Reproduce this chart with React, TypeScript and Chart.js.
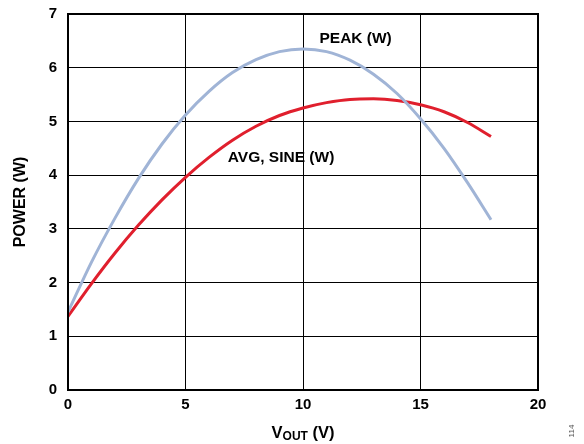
import React, { useEffect, useRef } from "react";
import { Chart, registerables } from "chart.js";

Chart.register(...registerables);

const vout = [0, 1, 2, 3, 4, 5, 6, 7, 8, 9, 10, 11, 12, 13, 14, 15, 16, 17, 18];
const peakW = [1.45, 2.38, 3.2, 3.94, 4.58, 5.12, 5.56, 5.91, 6.15, 6.3, 6.35, 6.3, 6.14, 5.88, 5.52, 5.05, 4.5, 3.86, 3.17];
const avgSineW = [1.37, 1.98, 2.55, 3.07, 3.54, 3.96, 4.33, 4.65, 4.91, 5.11, 5.25, 5.35, 5.41, 5.42, 5.39, 5.31, 5.18, 4.98, 4.72];
const xTicks = [0, 5, 10, 15, 20];
const yTicks = [0, 1, 2, 3, 4, 5, 6, 7];

const FONT = "'Liberation Sans', Arial, sans-serif";

export default function App() {
  const ref = useRef<HTMLCanvasElement | null>(null);
  useEffect(() => {
    document.body.style.margin = "0";
    const canvas = ref.current;
    if (!canvas) return;

    const overlay = {
      id: "overlay",
      afterDraw(chart: any) {
        const { ctx, chartArea, scales } = chart;
        const xs = scales.x;
        const ys = scales.y;
        ctx.save();
        // frame
        ctx.strokeStyle = "#000";
        ctx.lineWidth = 2;
        ctx.strokeRect(chartArea.left, chartArea.top, chartArea.right - chartArea.left, chartArea.bottom - chartArea.top);
        // series labels
        ctx.fillStyle = "#000";
        ctx.font = `bold 15.5px ${FONT}`;
        ctx.textBaseline = "middle";
        ctx.textAlign = "left";
        ctx.fillText("PEAK (W)", xs.getPixelForValue(10.7), ys.getPixelForValue(6.54));
        ctx.fillText("AVG, SINE (W)", xs.getPixelForValue(6.8), ys.getPixelForValue(4.32));
        // y title
        ctx.save();
        ctx.translate(21, (chartArea.top + chartArea.bottom) / 2);
        ctx.rotate(-Math.PI / 2);
        ctx.textAlign = "center";
        ctx.font = `bold 16px ${FONT}`;
        ctx.fillText("POWER (W)", 0, 0);
        ctx.restore();
        // x title with subscript
        const cx = (chartArea.left + chartArea.right) / 2;
        const baseY = 438;
        ctx.textBaseline = "alphabetic";
        ctx.font = `bold 16.5px ${FONT}`;
        const wV = ctx.measureText("V").width;
        const wRest = ctx.measureText(" (V)").width;
        ctx.font = `bold 12px ${FONT}`;
        const wSub = ctx.measureText("OUT").width;
        let x = cx - (wV + wSub + wRest) / 2;
        ctx.font = `bold 16.5px ${FONT}`;
        ctx.fillText("V", x, baseY);
        x += wV;
        ctx.font = `bold 12px ${FONT}`;
        ctx.fillText("OUT", x, baseY + 2);
        x += wSub;
        ctx.font = `bold 16.5px ${FONT}`;
        ctx.fillText(" (V)", x, baseY);
        // figure number
        ctx.save();
        ctx.translate(572, 431);
        ctx.rotate(-Math.PI / 2);
        ctx.font = `8px ${FONT}`;
        ctx.fillStyle = "#555";
        ctx.textAlign = "center";
        ctx.textBaseline = "middle";
        ctx.fillText("114", 0, 0);
        ctx.restore();
        ctx.restore();
      },
    };

    const chart = new Chart(canvas, {
      type: "line",
      data: {
        datasets: [
          {
            label: "PEAK (W)",
            data: vout.map((v, i) => ({ x: v, y: peakW[i] })),
            borderColor: "#a0b4d6",
            borderWidth: 3,
            pointRadius: 0,
            tension: 0.4,
            cubicInterpolationMode: "monotone",
          },
          {
            label: "AVG, SINE (W)",
            data: vout.map((v, i) => ({ x: v, y: avgSineW[i] })),
            borderColor: "#e01f2d",
            borderWidth: 3,
            pointRadius: 0,
            tension: 0.4,
            cubicInterpolationMode: "monotone",
          },
        ],
      },
      options: {
        animation: false,
        responsive: false,
        maintainAspectRatio: false,
        layout: { padding: { left: 0, top: 14, right: 46, bottom: 0 } },
        plugins: { legend: { display: false }, tooltip: { enabled: false } },
        scales: {
          x: {
            type: "linear",
            min: 0,
            max: 20,
            afterBuildTicks: (s: any) => {
              s.ticks = xTicks.map((v) => ({ value: v }));
            },
            afterFit: (s: any) => {
              s.height = 54;
              s.paddingLeft = 0;
              s.paddingRight = 0;
            },
            ticks: { color: "#000", font: { family: FONT, size: 15, weight: "bold" }, padding: 6 },
            grid: { color: "#000", lineWidth: 1, drawTicks: false },
            border: { display: false },
          },
          y: {
            type: "linear",
            min: 0,
            max: 7,
            afterBuildTicks: (s: any) => {
              s.ticks = yTicks.map((v) => ({ value: v }));
            },
            afterFit: (s: any) => {
              s.width = 68;
              s.paddingTop = 0;
              s.paddingBottom = 0;
            },
            ticks: { color: "#000", font: { family: FONT, size: 15, weight: "bold" }, padding: 11 },
            grid: { color: "#000", lineWidth: 1, drawTicks: false },
            border: { display: false },
          },
        },
      },
      plugins: [overlay],
    } as any);
    return () => chart.destroy();
  }, []);
  return <canvas ref={ref} width={584} height={444} style={{ display: "block" }} />;
}
